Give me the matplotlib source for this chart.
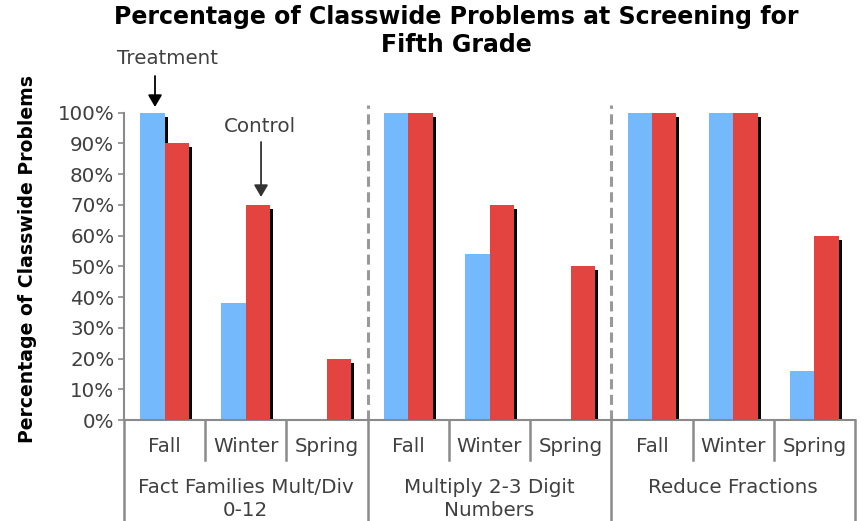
import matplotlib
matplotlib.use("Agg")
import matplotlib.pyplot as plt
from matplotlib.transforms import blended_transform_factory
import numpy as np

groups = ["Fact Families Mult/Div\n0-12", "Multiply 2-3 Digit\nNumbers", "Reduce Fractions"]
seasons = ["Fall", "Winter", "Spring"]
treatment = [1.00, 0.38, 0.00, 1.00, 0.54, 0.00, 1.00, 1.00, 0.16]
control = [0.90, 0.70, 0.20, 1.00, 0.70, 0.50, 1.00, 1.00, 0.60]
yticks = [0, 0.1, 0.2, 0.3, 0.4, 0.5, 0.6, 0.7, 0.8, 0.9, 1.0]
ytick_labels = ["0%", "10%", "20%", "30%", "40%", "50%", "60%", "70%", "80%", "90%", "100%"]

BLUE = "#75B9FD"
RED = "#E3443F"
GREY = "#8a8a8a"
TXT = "#404040"
FS = 14.3

plt.rcParams['font.family'] = ['DejaVu Sans']
fig = plt.figure(figsize=(8.66, 5.21), dpi=100)
ax = fig.add_axes([124/866, 1-420/521, (855-124)/866, (420-112.7)/521])

n = len(treatment)
x = np.arange(n)
w = 0.3
dx_sh = 3.0 / 81.2
dy_sh = 4.0 / 307.3
# shadows
ax.bar(x - w/2 + dx_sh, np.maximum(np.array(treatment) - dy_sh, 0), w, color='black', zorder=1, linewidth=0)
ax.bar(x + w/2 + dx_sh, np.maximum(np.array(control) - dy_sh, 0), w, color='black', zorder=1, linewidth=0)
ax.bar(x - w/2, treatment, w, color=BLUE, zorder=2, linewidth=0)
ax.bar(x + w/2, control, w, color=RED, zorder=3, linewidth=0)

ax.set_xlim(-0.5, n - 0.5)
ax.set_ylim(0, 1.0)
ax.set_yticks(yticks)
ax.set_yticklabels(ytick_labels, fontsize=FS, color=TXT)
ax.tick_params(axis='y', direction='out', length=4, width=1.2, color=GREY, pad=3)
ax.set_xticks([])
for s in ['top', 'right']:
    ax.spines[s].set_visible(False)
ax.spines['left'].set_color(GREY)
ax.spines['left'].set_linewidth(1.5)
ax.spines['bottom'].set_color(GREY)
ax.spines['bottom'].set_linewidth(1.5)

# dashed group separators
for b in [2.5, 5.5]:
    ax.plot([b, b], [0, 1.025], ls=(0, (3.3, 1.8)), color='#999999', lw=2.2, clip_on=False, zorder=0)

# multi-level x-axis labels
trans = blended_transform_factory(ax.transData, fig.transFigure)
def fy(py):
    return 1 - py / 521
for i in range(n + 1):
    b = i - 0.5
    if i % 3 == 0:
        ax.plot([b, b], [fy(420), fy(521)], color=GREY, lw=1.8, transform=trans, clip_on=False)
    else:
        ax.plot([b, b], [fy(420), fy(460)], color=GREY, lw=1.8, transform=trans, clip_on=False)
for i in range(n):
    ax.text(i, fy(446), seasons[i % 3], ha='center', va='center', fontsize=FS, color=TXT,
            transform=trans)
for g, name in enumerate(groups):
    ax.text(3 * g + 1, fy(478), name, ha='center', va='top', fontsize=FS, color=TXT,
            transform=trans, linespacing=1.3)

fig.text(28/866, 1 - 259/521, "Percentage of Classwide Problems", rotation=90,
         ha='center', va='center', fontsize=13.6, fontweight='bold', color='black')

fig.text(456/866, 1 - 17/521, "Percentage of Classwide Problems at Screening for",
         ha='center', va='center', fontsize=17, fontweight='bold')
fig.text(456/866, 1 - 45/521, "Fifth Grade",
         ha='center', va='center', fontsize=17, fontweight='bold')

def px2x(px):
    return (px - 124) / 81.2 - 0.5
def py2y(py):
    return (420 - py) / 307.3

ax.text(px2x(167), py2y(58), "Treatment", ha='center', va='center', fontsize=FS, color=TXT, clip_on=False)
ax.text(px2x(260), py2y(126), "Control", ha='center', va='center', fontsize=FS, color=TXT, clip_on=False)
arrow_kw = dict(arrowstyle='-|>,head_length=0.6,head_width=0.35', color='black', lw=1.3,
                mutation_scale=12, shrinkA=0, shrinkB=0)
ax.annotate("", xy=(px2x(155), py2y(107)), xytext=(px2x(155), py2y(76)),
            annotation_clip=False, arrowprops=arrow_kw)
ax.annotate("", xy=(px2x(261), py2y(197)), xytext=(px2x(261), py2y(142)),
            annotation_clip=False, arrowprops=dict(arrow_kw, color='#333333'))

fig.savefig("out.png", dpi=100)
